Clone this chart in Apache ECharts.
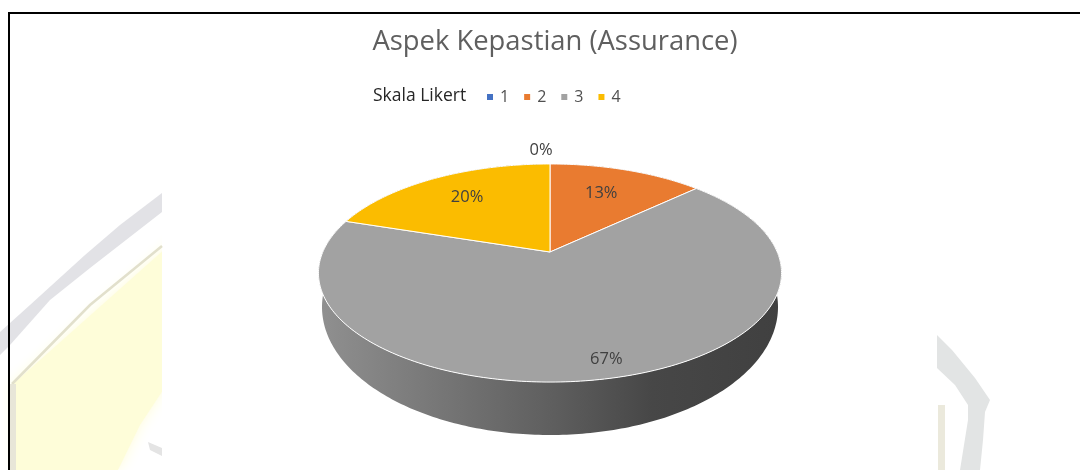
<!DOCTYPE html>
<html>
<head>
<meta charset="utf-8">
<style>html,body{margin:0;padding:0;background:#fff}#c{width:1080px;height:470px}</style>
<script src="https://cdn.jsdelivr.net/npm/echarts@6/dist/echarts.min.js"></script>
</head>
<body>
<div id="c"></div>
<script>
const categories = ['1', '2', '3', '4'];
const percentages = [0, 13, 67, 20];
const sliceColors = ['#4472C4', '#E97B30', '#A2A2A2', '#FBBC00'];
const titleText = 'Aspek Kepastian (Assurance)';
const legendCaption = 'Skala Likert';

// projection of the tilted pie
const apexX = 550, apexY = 252, projA = 227.2, projB = 105, tilt = 0.1927;
const baseCY = 307, baseRX = 228, baseRY = 128;
// label placement: [radius fraction, dx, dy] for each slice
const labelPlace = [[1.15, -9, -3], [0.70, -5, 1], [0.867, 5, 1], [0.734, 5, 1]];

const total = percentages.reduce((a, b) => a + b, 0);
function rim(deg, r) {
  const t = deg * Math.PI / 180, u = Math.sin(t), v = Math.cos(t), w = 1 + tilt * r * v;
  return [apexX + projA * r * u / w, apexY - projB * r * v / w];
}
function base(deg) {
  const t = deg * Math.PI / 180;
  return [apexX + baseRX * Math.sin(t), baseCY - baseRY * Math.cos(t)];
}
function arcDegs(a, b) {
  const out = [];
  for (let d = a; d < b; d += 1) out.push(d);
  out.push(b);
  return out;
}
function makeRender(i) {
  return function (params, api) {
    const value = api.value(0);
    let before = 0;
    for (let k = 0; k < i; k++) before += percentages[k];
    const a = before / total * 360, b = (before + value) / total * 360;
    const kids = [];
    if (value > 0) {
      const degs = arcDegs(a, b);
      const top = [[apexX, apexY]].concat(degs.map(d => rim(d, 1)));
      const side = degs.map(d => rim(d, 1)).concat(degs.slice().reverse().map(base));
      kids.push({
        type: 'polygon', z2: 1, shape: { points: side },
        style: {
          fill: new echarts.graphic.LinearGradient(0, 0, 1, 0, [
            { offset: 0, color: '#909090' },
            { offset: 0.5, color: '#5f5f5f' },
            { offset: 0.72, color: '#474747' },
            { offset: 1, color: '#404040' }
          ])
        }
      });
      kids.push({
        type: 'polygon', z2: 10, shape: { points: top },
        style: { fill: sliceColors[i], stroke: '#ffffff', lineWidth: 1 }
      });
    }
    const place = labelPlace[i];
    const p = rim((a + b) / 2, place[0]);
    kids.push({
      type: 'text', z2: 20,
      style: {
        x: p[0] + place[1], y: p[1] + place[2],
        text: value + '%', fill: '#404040',
        font: '16.5px "Open Sans"', align: 'center', verticalAlign: 'middle'
      }
    });
    return { type: 'group', children: kids };
  };
}

const chart = echarts.init(document.getElementById('c'), null, { renderer: 'canvas' });
chart.setOption({
  animation: false,
  backgroundColor: '#ffffff',
  title: {
    text: titleText, left: 550, top: 24, textAlign: 'center',
    textStyle: { fontFamily: 'Open Sans', fontSize: 27.4, fontWeight: 'normal', color: '#5f5f5f' }
  },
  legend: {
    data: categories, left: 482, top: 84, itemWidth: 6, itemHeight: 6, itemGap: 15,
    icon: 'rect', selectedMode: false,
    textStyle: { fontFamily: 'Open Sans', fontSize: 16, color: '#505050', padding: [0, 0, 0, 2] }
  },
  graphic: [
    // watermark behind the chart
    { type: 'polygon', z: -10, silent: true, shape: { points: [[175, 240], [175, 372], [140, 425], [118, 470], [16, 470], [12, 385]] }, style: { fill: '#FEFDD9', shadowBlur: 14, shadowColor: '#FEFDD9' } },
    { type: 'rect', z: -10, silent: true, shape: { x: 162, y: 0, width: 775, height: 470 }, style: { fill: '#ffffff' } },
    { type: 'polygon', z: -9, silent: true, shape: { points: [[162, 193], [120, 225], [85, 255], [30, 305], [0, 332], [0, 355], [10, 345], [50, 300], [90, 268], [162, 212]] }, style: { fill: '#E2E2E6' } },
    { type: 'polyline', z: -9, silent: true, shape: { points: [[162, 246], [90, 305], [12, 384]] }, style: { stroke: '#E2E0CC', lineWidth: 2.5, fill: null } },
    { type: 'rect', z: -9, silent: true, shape: { x: 10, y: 384, width: 6, height: 86 }, style: { fill: '#E8E6D8' } },
    { type: 'polygon', z: -9, silent: true, shape: { points: [[937, 335], [952, 350], [975, 378], [990, 400], [985, 412], [983, 440], [980, 470], [960, 470], [968, 420], [968, 405], [955, 385], [937, 368]] }, style: { fill: '#E2E4E4' } },
    { type: 'rect', z: -9, silent: true, shape: { x: 938, y: 405, width: 7, height: 65 }, style: { fill: '#EBE9DC' } },
    { type: 'polygon', z: -9, silent: true, shape: { points: [[148, 442], [162, 448], [162, 456], [150, 450]] }, style: { fill: '#E4E4E4' } },
    // frame
    { type: 'line', z: 5, silent: true, shape: { x1: 8, y1: 13, x2: 1080, y2: 13 }, style: { stroke: '#000', lineWidth: 2 } },
    { type: 'line', z: 5, silent: true, shape: { x1: 9, y1: 12, x2: 9, y2: 470 }, style: { stroke: '#000', lineWidth: 2 } },
    // legend caption
    { type: 'text', z: 6, silent: true, style: { x: 373, y: 96, text: legendCaption, font: '17.5px "Open Sans"', fill: '#262626', verticalAlign: 'middle' } }
  ],
  series: categories.map((name, i) => ({
    type: 'custom', name, coordinateSystem: 'none', silent: true,
    itemStyle: { color: sliceColors[i] },
    renderItem: makeRender(i),
    data: [[percentages[i]]]
  }))
});
</script>
</body>
</html>
